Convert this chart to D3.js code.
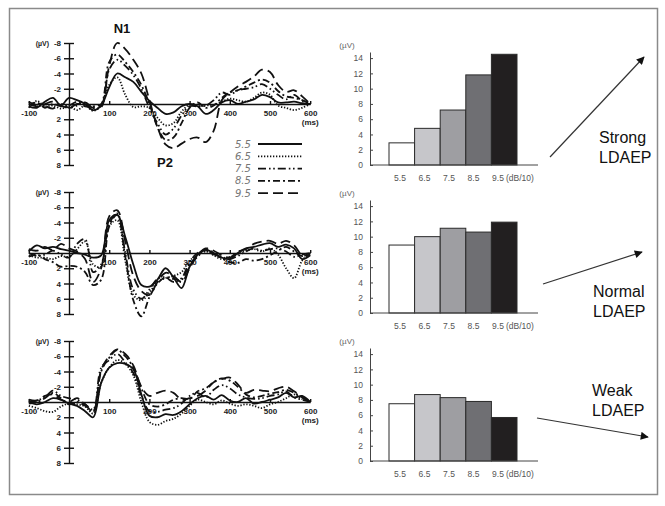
<!DOCTYPE html>
<html><head><meta charset="utf-8">
<script src="https://cdn.jsdelivr.net/npm/d3@7"></script>
<style>body{margin:0;background:#fff}svg{display:block}</style>
</head><body><svg id="c" width="665" height="506"></svg>
<script>
// ---------- DATA ----------
const times = [-100,-80,-60,-40,-20,0,20,40,60,80,100,120,140,160,180,200,220,240,260,280,300,320,340,360,380,400,420,440,460,480,500,520,540,560,580,600];
const levels = ["5.5","6.5","7.5","8.5","9.5"];

// Strong LDAEP waveforms (µV, negative up)
const strong55 = [0.3,0.5,-0.3,-0.8,0.2,-0.8,-0.5,0,0.8,0.2,-2.2,-4.0,-3.5,-2.9,-1.6,-0.4,0.5,1.3,1.1,0.3,0,0.3,1.3,0.8,-0.2,-0.5,0,-0.3,-0.6,-1.2,-0.9,-0.2,-0.2,-0.3,-0.1,0];
const strong65 = [0.5,-0.4,0.3,0.2,0.6,0.3,0.8,0.2,0.9,0.2,-2.5,-3.5,-1.2,0.4,0.3,0.5,1.8,2.8,2.5,1.0,0.1,0.3,0.2,0.1,-0.3,-0.7,-0.5,-0.3,-0.8,-1.5,-1.2,0.2,0.5,0.8,0.5,0];
const strong75 = [-0.3,0.2,0.3,0.6,0,0.5,0.2,-0.2,0.5,0.4,-4.5,-5.8,-5.0,-3.8,-2.0,0.5,2.5,4.0,3.2,1.5,0.3,0.3,0.2,-0.5,-1.5,-1.2,-1.8,-2.0,-2.2,-2.6,-2.0,-1.2,-0.6,-1.2,-0.4,0];
const strong85 = [0.2,-0.2,0.5,0,0.3,0.2,-0.3,0.3,0.3,0,-5.5,-6.5,-5.5,-4.2,-2.5,0,3.0,4.7,4.4,2.5,0.5,-0.2,0.5,0.2,-0.8,-1.5,-1.8,-2.3,-2.8,-3.2,-2.8,-1.7,-1.0,-0.8,-0.5,0];
const strong95 = [0,0.3,0,-0.3,0.2,0.5,0,0,0.5,0.2,-5.0,-8.0,-7.2,-5.8,-4.0,-0.5,3.0,5.3,5.8,5.2,4.6,4.4,5.0,3.5,-0.5,-1.5,-2.3,-2.9,-3.6,-4.5,-4.2,-2.5,-1.6,-1.8,-1.0,0];

// Normal LDAEP waveforms
const normal55 = [-0.2,-1.0,-0.6,-0.8,-0.5,-0.3,0,0.2,0.6,0.3,-4.3,-5.0,-2.1,1.5,4.2,4.4,3.5,2.0,3.2,4.6,1.8,0.2,-0.4,0,0.6,0.8,0,-0.6,-0.8,-1.1,-1.3,-0.8,-1.1,-0.6,0.8,0.3];
const normal65 = [0.3,0.6,0.6,0.8,0.4,0.5,-0.5,-1.5,1.5,1.8,-3.5,-4.3,1.0,5.5,6.2,5.2,3.8,3.3,3.0,2.5,1.0,0.3,-0.2,0.3,0.8,0.5,0.2,-0.3,-0.5,-0.2,-0.6,0.2,2.0,3.3,1.0,0];
const normal75 = [0,0.4,0.2,-0.3,0.2,0.6,-1.2,-1.8,2.5,1.5,-3.8,-5.2,0,4.8,6.0,4.8,3.4,3.2,3.8,3.3,1.2,0,-0.3,0.2,0.5,0.8,0.4,-0.2,-0.6,-0.3,-0.5,-0.6,-0.2,0.5,0.2,0];
const normal85 = [0.5,0.2,0.8,1.2,1.8,1.7,1.8,2.5,4.2,3.5,-3.5,-5.0,0.5,6.2,8.3,5.8,4.0,3.2,3.4,3.5,1.5,0.5,-0.5,0,0.7,1.2,1.3,0.8,1.0,0.8,0.3,-0.3,-0.8,-0.2,0.4,0];
const normal95 = [-0.5,-0.3,-0.8,-0.4,-1.2,-0.6,-0.2,0.8,3.8,2.0,-4.8,-5.6,-1.5,3.0,5.0,5.5,3.8,2.6,3.0,3.8,2.0,0.3,-0.6,-0.3,0.3,0.6,-0.2,-0.5,-1.2,-1.5,-1.6,-1.2,-1.6,-1.0,0.3,0.2];

// Weak LDAEP waveforms
const weak55 = [0,0.3,0,-0.5,-0.3,0.2,0.5,1.2,2.0,-2.5,-4.5,-5.1,-5.0,-4.3,-1.0,1.8,2.0,1.6,1.7,1.2,0.3,-0.5,-0.8,-0.3,-0.9,-0.2,0,-0.5,0.2,0,-0.3,-0.6,-1.2,-0.6,-0.8,0];
const weak65 = [0.5,0.8,1.2,1.3,0.6,0.2,0.3,0.6,1.5,-2.5,-4.5,-5.5,-5.0,-3.5,0,2.6,3.0,2.5,2.2,1.5,0.5,-0.3,0,0.3,-0.2,0.2,0.5,0.3,0.5,0.8,0.3,0,-0.5,-1.0,-0.4,0];
const weak75 = [0,-0.2,-0.6,-1.5,-0.8,-0.5,-0.3,0.3,1.0,-4.5,-5.5,-6.3,-5.2,-3.8,-0.8,1.2,1.3,1.0,0.8,0.2,-0.8,-1.2,-0.6,-1.6,-2.2,-1.8,-1.0,-0.6,-0.4,-0.5,-0.8,-1.0,-1.4,-0.6,-0.3,0];
const weak85 = [0.2,0,-0.5,-1.2,-0.5,0.3,0,0.5,1.2,-4.0,-5.8,-6.8,-6.0,-4.5,-1.8,0.3,0.6,0.3,-0.3,-0.5,-0.4,-1.4,-1.8,-2.6,-3.1,-2.8,-2.0,-1.0,-0.6,-0.8,-1.1,-1.3,-1.6,-1.2,-0.6,0];
const weak95 = [-0.3,-0.2,-0.8,-1.0,-0.3,0,-0.5,0.3,1.3,-4.2,-6.0,-6.9,-6.3,-4.8,-2.0,-0.8,-1.2,-1.5,-1.2,-0.3,-0.5,-0.8,-1.5,-2.6,-3.0,-3.2,-2.3,-1.2,-1.6,-1.5,-1.4,-1.8,-2.0,-1.4,-0.7,0];

// Bar amplitudes (µV) per intensity
const strongBars = [2.9,4.8,7.2,11.8,14.5];
const normalBars = [8.9,10.0,11.1,10.6,11.9];
const weakBars = [7.5,8.7,8.3,7.8,5.7];

const erpYTicks = [-8,-6,-4,-2,2,4,6,8];
const erpXTicks = [-100,100,200,300,400,500,600];
const barTicks = [0,2,4,6,8,10,12,14];
const panelLabels = [["Strong","LDAEP"],["Normal","LDAEP"],["Weak","LDAEP"]];

// ---------- STYLES ----------
const dashes = {"5.5":null,"6.5":"1.3,1.7","7.5":"8,3,1.6,2.6,1.6,3","8.5":"7,3,2,3","9.5":"10,5"};
const barFill = {"5.5":"#ffffff","6.5":"#c6c6ca","7.5":"#9e9ea2","8.5":"#6f6f73","9.5":"#221f20"};

const svg = d3.select("#c");
svg.append("rect").attr("x",9.5).attr("y",8.5).attr("width",648).attr("height",486)
  .attr("fill","none").attr("stroke","#8a8a8a").attr("stroke-width",1.5);

svg.append("defs").append("marker").attr("id","ah").attr("viewBox","0 0 10 10")
  .attr("refX",9).attr("refY",5).attr("markerWidth",11).attr("markerHeight",8)
  .attr("markerUnits","userSpaceOnUse").attr("orient","auto")
  .append("path").attr("d","M0,0L10,5L0,10Z").attr("fill","#111");

const panels = [
  {series:[strong55,strong65,strong75,strong85,strong95], bars:strongBars, zero:104, bzero:165,
   arrow:[550,157,644,57], text:[599,143]},
  {series:[normal55,normal65,normal75,normal85,normal95], bars:normalBars, zero:253, bzero:313,
   arrow:[543,284,642,252], text:[593,297]},
  {series:[weak55,weak65,weak75,weak85,weak95], bars:weakBars, zero:402, bzero:461,
   arrow:[537,418,648,437], text:[592,396]}
];

const x = d3.scaleLinear().domain([-100,600]).range([28.8,310.2]);
const axX = x(0);

panels.forEach((p,pi)=>{
  const g = svg.append("g");
  const y = d3.scaleLinear().domain([-8,8]).range([p.zero-61,p.zero+61]);

  // x axis
  const xa = g.append("g").attr("transform",`translate(0,${p.zero})`)
    .call(d3.axisBottom(x).tickValues(erpXTicks).tickFormat(d=>String(d))
      .tickSizeInner(-3).tickSizeOuter(0).tickPadding(6));
  // y axis
  const ya = g.append("g").attr("transform",`translate(${axX},0)`)
    .call(d3.axisLeft(y).tickValues(erpYTicks).tickFormat(d=>String(d))
      .tickSizeInner(5).tickSizeOuter(0).tickPadding(3));
  ya.selectAll(".tick").append("line").attr("x2",5).attr("stroke","#000");
  [xa,ya].forEach(a=>{
    a.selectAll("path,line").attr("stroke","#111").attr("stroke-width",1.4);
    a.selectAll("text").attr("font-family","Liberation Sans, Arial, sans-serif")
      .attr("font-weight","bold").attr("font-size",8).attr("fill","#222");
  });
  g.append("text").attr("x",x(600)).attr("y",p.zero+21).attr("text-anchor","middle")
    .attr("font-family","Liberation Sans, Arial, sans-serif").attr("font-weight","bold")
    .attr("font-size",8).attr("fill","#222").text("(ms)");
  g.append("text").attr("x",axX-20).attr("y",y(-8)+2.5).attr("text-anchor","end")
    .attr("font-family","Liberation Sans, Arial, sans-serif").attr("font-weight","bold")
    .attr("font-size",7).attr("fill","#222").text("(µV)");

  // waveforms
  const line = d3.line().x((d,i)=>x(times[i])).y(d=>y(d)).curve(d3.curveCatmullRom.alpha(0.5));
  p.series.forEach((s,si)=>{
    g.append("path").attr("d",line(s)).attr("fill","none").attr("stroke","#111")
      .attr("stroke-width",1.8).attr("stroke-dasharray",dashes[levels[si]]);
  });

  // bars
  const by = d3.scaleLinear().domain([0,14.8]).range([p.bzero,p.bzero-113]);
  const bx = d3.scaleBand().domain(levels).range([389,517]).padding(0);
  const lx = d3.scalePoint().domain(levels).range([400,498]);
  const bg = svg.append("g");
  bg.selectAll("rect").data(p.bars).join("rect")
    .attr("x",(d,i)=>bx(levels[i])).attr("width",bx.bandwidth())
    .attr("y",d=>by(d)).attr("height",d=>by(0)-by(d))
    .attr("fill",(d,i)=>barFill[levels[i]]).attr("stroke","#2a2a2a").attr("stroke-width",1);
  const ba = bg.append("g").attr("transform","translate(370,0)")
    .call(d3.axisLeft(by).tickValues(barTicks).tickSizeInner(-3).tickSizeOuter(0).tickPadding(7));
  ba.selectAll("path,line").attr("stroke","#444").attr("stroke-width",1);
  ba.selectAll("text").attr("font-family","Liberation Sans, Arial, sans-serif")
    .attr("font-size",8.5).attr("fill","#555");
  bg.append("line").attr("x1",370).attr("x2",538).attr("y1",by(0)).attr("y2",by(0))
    .attr("stroke","#444").attr("stroke-width",1);
  bg.selectAll("text.cat").data(levels).join("text").attr("class","cat")
    .attr("x",d=>lx(d)).attr("y",by(0)+16).attr("text-anchor","middle")
    .attr("font-family","Liberation Sans, Arial, sans-serif").attr("font-size",8.5).attr("fill","#555")
    .text(d=>d);
  bg.append("text").attr("x",506).attr("y",by(0)+16)
    .attr("font-family","Liberation Sans, Arial, sans-serif").attr("font-size",8.5).attr("fill","#555")
    .text("(dB/10)");
  bg.append("text").attr("x",347).attr("y",by(0)-117).attr("text-anchor","middle")
    .attr("font-family","Liberation Sans, Arial, sans-serif").attr("font-size",8).attr("fill","#666")
    .text("(µV)");

  // arrow + label
  const a = p.arrow;
  svg.append("line").attr("x1",a[0]).attr("y1",a[1]).attr("x2",a[2]).attr("y2",a[3])
    .attr("stroke","#333").attr("stroke-width",1.2).attr("marker-end","url(#ah)");
  panelLabels[pi].forEach((t,ti)=>{
    svg.append("text").attr("x",p.text[0]).attr("y",p.text[1]+ti*19.5)
      .attr("font-family","Liberation Sans, Arial, sans-serif").attr("font-size",16).attr("fill","#111")
      .text(t);
  });
});

// legend in first panel
const lg = svg.append("g");
levels.forEach((l,i)=>{
  const yy = 144 + i*12.3;
  lg.append("text").attr("x",235).attr("y",yy+3.5).attr("font-family","DejaVu Sans, sans-serif")
    .attr("font-style","italic").attr("font-size",10).attr("fill","#777").text(l);
  lg.append("line").attr("x1",258).attr("x2",302).attr("y1",yy).attr("y2",yy)
    .attr("stroke","#111").attr("stroke-width",1.8).attr("stroke-dasharray",dashes[l]);
});

// peak labels
svg.append("text").attr("x",122).attr("y",33).attr("text-anchor","middle")
  .attr("font-family","Liberation Sans, Arial, sans-serif").attr("font-weight","bold")
  .attr("font-size",13).attr("fill","#111").text("N1");
svg.append("text").attr("x",165).attr("y",167).attr("text-anchor","middle")
  .attr("font-family","Liberation Sans, Arial, sans-serif").attr("font-weight","bold")
  .attr("font-size",13).attr("fill","#111").text("P2");
</script></body></html>
